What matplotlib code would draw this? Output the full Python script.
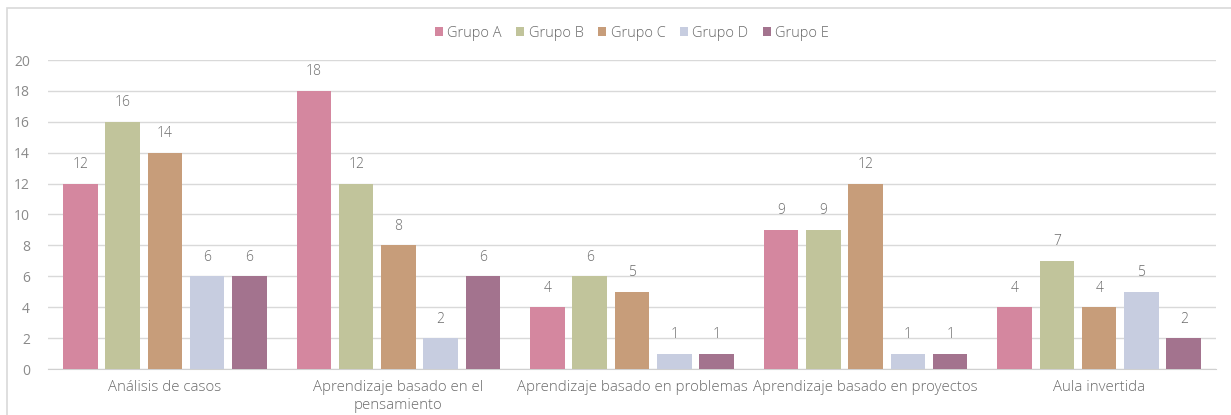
import numpy as np
import matplotlib.pyplot as plt
from matplotlib.patches import Rectangle

# === Daten ===
categorias = ["Análisis de casos", "Aprendizaje basado en el\npensamiento",
              "Aprendizaje basado en problemas", "Aprendizaje basado en proyectos",
              "Aula invertida"]
grupos = ["Grupo A", "Grupo B", "Grupo C", "Grupo D", "Grupo E"]
grupo_a = [12, 18, 4, 9, 4]
grupo_b = [16, 12, 6, 9, 7]
grupo_c = [14, 8, 5, 12, 4]
grupo_d = [6, 2, 1, 1, 5]
grupo_e = [6, 6, 1, 1, 2]
series = [grupo_a, grupo_b, grupo_c, grupo_d, grupo_e]
colores = ['#d4879f', '#c1c49b', '#c79d7a', '#c7cde0', '#a3738e']

plt.rcParams['font.family'] = ['Open Sans', 'DejaVu Sans']
gris = '#6b6b6b'

fig = plt.figure(figsize=(12.31, 4.15), dpi=100)
fig.patches.append(Rectangle((7 / 1231, -0.01), 1.0, 1 - 8 / 415 + 0.01,
                             transform=fig.transFigure, fill=False,
                             edgecolor='#d9d9d9', linewidth=1.2))
ax = fig.add_axes([48 / 1231, 1 - 369 / 415, (1216 - 48) / 1231, (369 - 60) / 415])

x = np.arange(len(categorias))
paso = 0.181
ancho = 0.148
for i, (nombre, vals, col) in enumerate(zip(grupos, series, colores)):
    pos = x + (i - 2) * paso
    ax.bar(pos, vals, ancho, color=col, label=nombre, zorder=3)
    for xb, v in zip(pos, vals):
        ax.text(xb, v + 0.75, str(v), ha='center', va='bottom',
                fontsize=10, color=gris, fontweight='light')

ax.set_xlim(-0.5, len(categorias) - 0.5)
ax.set_ylim(0, 20)
ax.set_yticks(range(0, 21, 2))
ax.set_xticks(x)
ax.set_xticklabels(categorias, fontsize=10.8, color=gris, fontweight='light',
                   linespacing=1.25)
ax.tick_params(axis='y', labelsize=10, labelcolor='#8a8a8a', length=0, pad=13)
ax.tick_params(axis='x', length=0, pad=8)
ax.grid(axis='y', color='#d9d9d9', linewidth=1, zorder=0)
for s in ['top', 'right', 'left']:
    ax.spines[s].set_visible(False)
ax.spines['bottom'].set_color('#d0d0d0')

ax.legend(loc='lower center', bbox_to_anchor=(0.5, 1.02), ncol=5, frameon=False,
          prop={'size': 10.5, 'weight': 'light'}, handlelength=0.55,
          handleheight=0.55, handletextpad=0.3, columnspacing=1.0, labelcolor=gris)

fig.savefig('out.png', dpi=100)
